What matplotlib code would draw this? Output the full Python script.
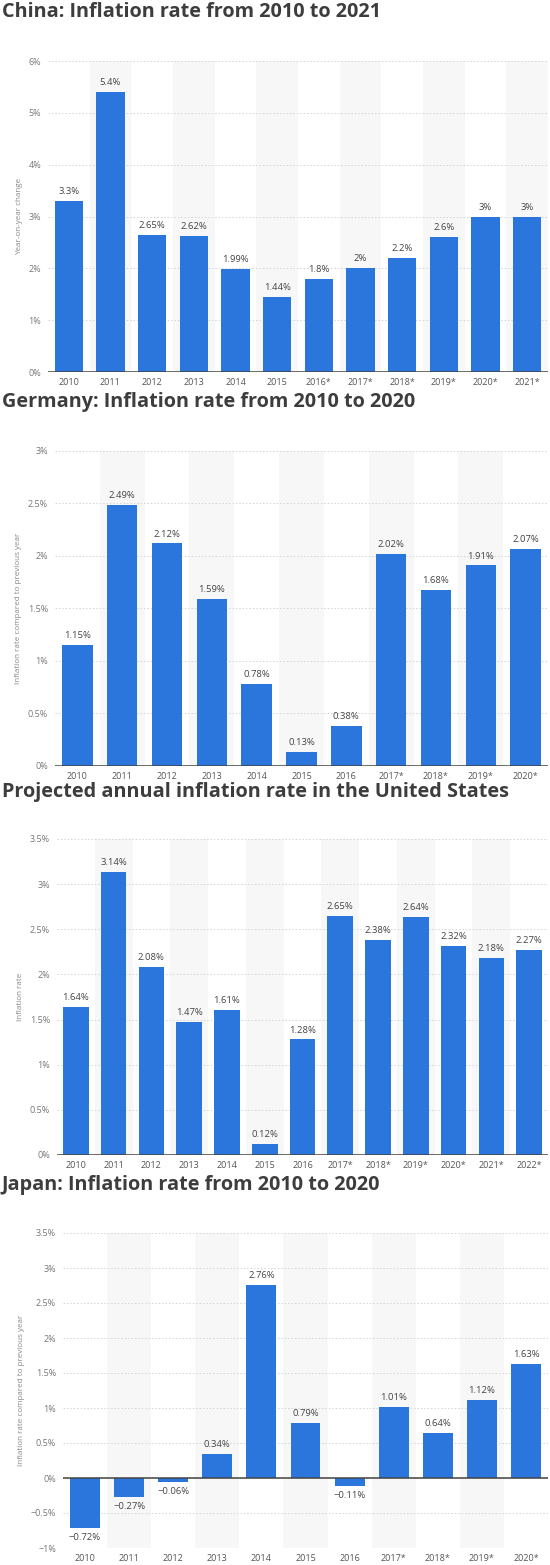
import matplotlib
matplotlib.use("Agg")
import matplotlib.pyplot as plt
from matplotlib.ticker import FuncFormatter, MultipleLocator

plt.rcParams['font.family'] = ['Open Sans', 'DejaVu Sans']

# ---------------- data ----------------
china_years = ["2010", "2011", "2012", "2013", "2014", "2015", "2016*", "2017*",
               "2018*", "2019*", "2020*", "2021*"]
china_values = [3.3, 5.4, 2.65, 2.62, 1.99, 1.44, 1.8, 2, 2.2, 2.6, 3, 3]

germany_years = ["2010", "2011", "2012", "2013", "2014", "2015", "2016", "2017*",
                 "2018*", "2019*", "2020*"]
germany_values = [1.15, 2.49, 2.12, 1.59, 0.78, 0.13, 0.38, 2.02, 1.68, 1.91, 2.07]

us_years = ["2010", "2011", "2012", "2013", "2014", "2015", "2016", "2017*",
            "2018*", "2019*", "2020*", "2021*", "2022*"]
us_values = [1.64, 3.14, 2.08, 1.47, 1.61, 0.12, 1.28, 2.65, 2.38, 2.64, 2.32, 2.18, 2.27]

japan_years = ["2010", "2011", "2012", "2013", "2014", "2015", "2016", "2017*",
               "2018*", "2019*", "2020*"]
japan_values = [-0.72, -0.27, -0.06, 0.34, 2.76, 0.79, -0.11, 1.01, 0.64, 1.12, 1.63]

panels = [
    dict(title="China: Inflation rate from 2010 to 2021", years=china_years,
         values=china_values, ylabel="Year-on-year change",
         ylim=(0, 6), step=1, box=(48, 548, 61, 372), title_y=12),
    dict(title="Germany: Inflation rate from 2010 to 2020", years=germany_years,
         values=germany_values, ylabel="Inflation rate compared to previous year",
         ylim=(0, 3), step=0.5, box=(55, 548, 451, 766), title_y=402),
    dict(title="Projected annual inflation rate in the United States", years=us_years,
         values=us_values, ylabel="Inflation rate",
         ylim=(0, 3.5), step=0.5, box=(57, 548, 839, 1155), title_y=792),
    dict(title="Japan: Inflation rate from 2010 to 2020", years=japan_years,
         values=japan_values, ylabel="Inflation rate compared to previous year",
         ylim=(-1, 3.5), step=0.5, box=(63, 548, 1233, 1548), title_y=1185),
]

W, H = 550, 1565
fig = plt.figure(figsize=(W / 100, H / 100), dpi=100)
fig.patch.set_facecolor("white")

BAR = "#2a76dc"
BAND = "#f7f7f7"


def fmt(v):
    s = f"{abs(v):g}%"
    return ("\u2212" + s) if v < 0 else s


for p in panels:
    l, r, t, b = p["box"]
    ax = fig.add_axes([l / W, 1 - b / H, (r - l) / W, (b - t) / H])
    n = len(p["values"])
    x = list(range(n))
    lo, hi = p["ylim"]
    ax.set_xlim(-0.5, n - 0.5)
    ax.set_ylim(lo, hi)
    for i in range(1, n, 2):
        ax.axvspan(i - 0.5, i + 0.5, color=BAND, zorder=0, lw=0)
    ax.yaxis.set_major_locator(MultipleLocator(p["step"]))
    ax.grid(axis="y", color="#d4d4d4", linestyle=(0, (1.5, 2)), linewidth=0.7, zorder=1)
    ax.set_axisbelow(True)
    ax.bar(x, p["values"], width=0.68, color=BAR, zorder=3, linewidth=0)
    ax.axhline(0, color="#444444", linewidth=1.1, zorder=4)
    for xi, v in zip(x, p["values"]):
        if v >= 0:
            ax.annotate(fmt(v), (xi, v), xytext=(0, 3.5), textcoords="offset points",
                        ha="center", va="bottom", fontsize=6.8, color="#444444", zorder=5)
        else:
            ax.annotate(fmt(v), (xi, v), xytext=(0, -3.5), textcoords="offset points",
                        ha="center", va="top", fontsize=6.8, color="#444444", zorder=5)
    for s in ax.spines.values():
        s.set_visible(False)
    ax.set_xticks(x)
    ax.set_xticklabels(p["years"], fontsize=6.5, color="#555555")
    ax.yaxis.set_major_formatter(FuncFormatter(lambda v, pos: fmt(round(v, 2)) if abs(v) > 1e-9 else "0%"))
    ax.tick_params(axis="x", length=0, labelsize=6.5, labelcolor="#555555", pad=4)
    ax.tick_params(axis="y", length=0, labelsize=6.5, labelcolor="#777777", pad=5)
    ax.set_ylabel(p["ylabel"], fontsize=5.8, color="#888888", labelpad=4)
    fig.text(2 / W, 1 - p["title_y"] / H, p["title"], fontsize=14.3, fontweight="bold",
             color="#3d3d3d", ha="left", va="center")

fig.savefig("out.png", dpi=100, facecolor="white")
